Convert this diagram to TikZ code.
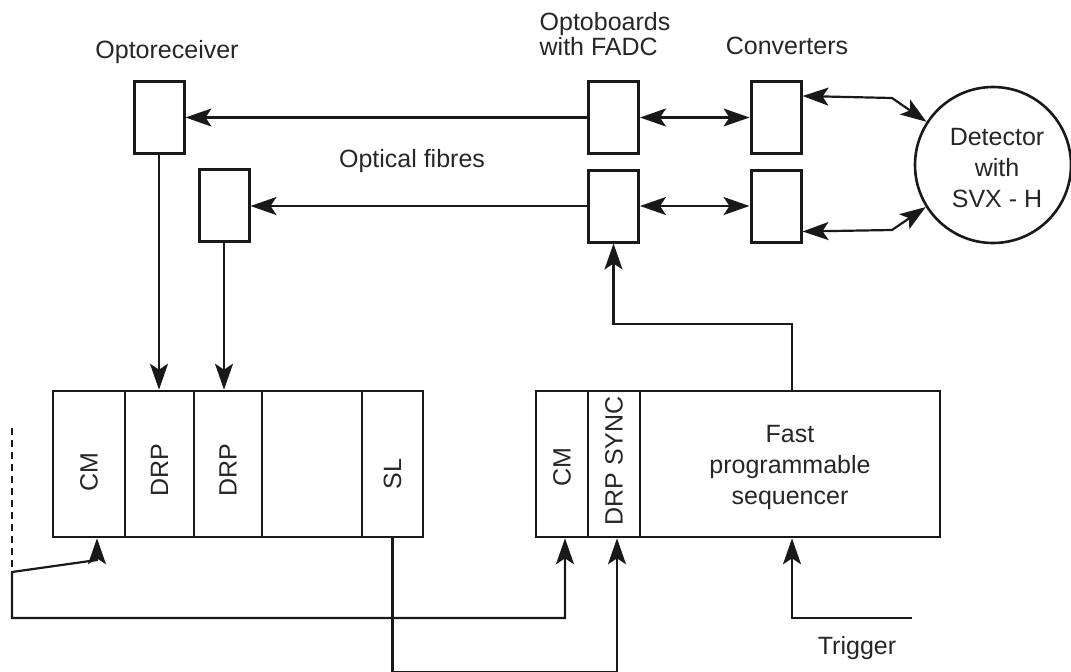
\documentclass[tikz,border=0pt]{standalone}
\usepackage{fontspec}
\setmainfont{Liberation Sans}
\usetikzlibrary{arrows.meta,calc}
\begin{document}
\begin{tikzpicture}[x=1pt,y=-1pt,
  ink/.style={draw=black!90, text=black!90},
  lbl/.style={font=\fontsize{25}{31}\selectfont, text=black!85, inner sep=0pt, align=center},
  smallbox/.style={ink, line width=3pt, minimum width=50pt, minimum height=72pt, inner sep=0pt},
  slot/.style={ink, line width=2.6pt, minimum height=146pt, inner sep=0pt},
  conn/.style={draw=black!90, line width=2.2pt},
  arr/.tip={Stealth[length=26pt,width=18pt,inset=6pt]},
  tip/.style={-arr},
  tipboth/.style={arr-arr},
  rot/.style={lbl, rotate=90}
]
\useasboundingbox (0,0) rectangle (1071,672);

% small boxes
\node[smallbox] (optorec) at (159,117) {};
\node[smallbox] (rec2) at (224,205.5) {};
\node[smallbox] (ob1) at (613.5,117.5) {};
\node[smallbox] (ob2) at (613.5,206) {};
\node[smallbox] (conv1) at (776,117.5) {};
\node[smallbox] (conv2) at (776,206) {};

% detector
\node[circle, ink, line width=2.6pt, minimum size=156pt, inner sep=0pt] (det) at (993,165) {};
\node[lbl] at (997,168) {Detector\\with\\SVX - H};

% left crate
\node[slot, minimum width=72pt] (cm1) at (89,464) {};
\node[slot, minimum width=69pt] (drp1) at (159.5,464) {};
\node[slot, minimum width=68pt] (drp2) at (228,464) {};
\node[slot, minimum width=100pt] (emp) at (312,464) {};
\node[slot, minimum width=61pt] (sl) at (392.5,464) {};
\node[rot] at (89,472) {CM};
\node[rot] at (159.5,470) {DRP};
\node[rot] at (228,470) {DRP};
\node[rot] at (392.5,474) {SL};

% right crate
\node[slot, minimum width=52pt] (cm2) at (562,464) {};
\node[slot, minimum width=52pt] (sync) at (614,464) {};
\node[slot, minimum width=300pt] (seq) at (790,464) {};
\node[lbl] at (790,467) {Fast\\programmable\\sequencer};
\node[rot] at (562,467) {CM};
\node[rot] at (614,461) {DRP SYNC};

% labels
\node[lbl] at (167,52) {Optoreceiver};
\node[lbl, align=left, font=\fontsize{25}{23}\selectfont] at (605,34) {Optoboards\\with FADC};
\node[lbl] at (787,46) {Converters};
\node[lbl] at (412,161) {Optical fibres};
\node[lbl] at (857,648) {Trigger};

% optical fibres
\draw[conn, tip] (ob1.west) -- (ob1.west -| optorec.east);
\draw[conn, tip] (ob2.west) -- (ob2.west -| rec2.east);
\draw[conn, tipboth] (ob1.east) -- (ob1.east -| conv1.west);
\draw[conn, tipboth] (ob2.east) -- (ob2.east -| conv2.west);

% converters to detector
\coordinate (c1a) at ($(conv1.north east)+(0,16)$);
\coordinate (c1b) at (892,98);
\coordinate (c2a) at ($(conv2.south east)+(0,-12)$);
\coordinate (c2b) at (892,230);
\draw[conn, tipboth] (c1a) -- (c1b) -- (det.147);
\draw[conn, tipboth] (c2a) -- (c2b) -- (det.212);

% optoreceivers to DRPs
\draw[conn, tip] (optorec.south) -- (optorec.south |- drp1.north);
\draw[conn, tip] (rec2.south) -- (rec2.south |- drp2.north);

% sequencer to optoboard
\coordinate (sq) at ($(seq.north)+(2,0)$);
\draw[conn, tip] (sq) -- ++(0,-66) -| (ob2.south);

% trigger
\coordinate (trig) at (912,618);
\coordinate (sqb) at ($(seq.south)+(2,0)$);
\draw[conn, tip] (trig) -| (sqb);

% CM link
\coordinate (cmA) at ($(cm1.south)+(8,0)$);
\coordinate (cmB) at ($(cm2.south)+(3,0)$);
\coordinate (k1) at (97,560);
\coordinate (k2) at (12,572);
\coordinate (k3) at (12,618);
\coordinate (dtop) at (12,428);
\draw[conn, tipboth] (cmA) -- (k1) -- (k2) -- (k3) -| (cmB);
\draw[conn, dash pattern=on 7pt off 5pt] (dtop) -- (k2);

% SL link
\coordinate (syB) at ($(sync.south)+(3,0)$);
\draw[conn, tip] (sl.south) -- ++(0,134) -| (syB);
\end{tikzpicture}
\end{document}
